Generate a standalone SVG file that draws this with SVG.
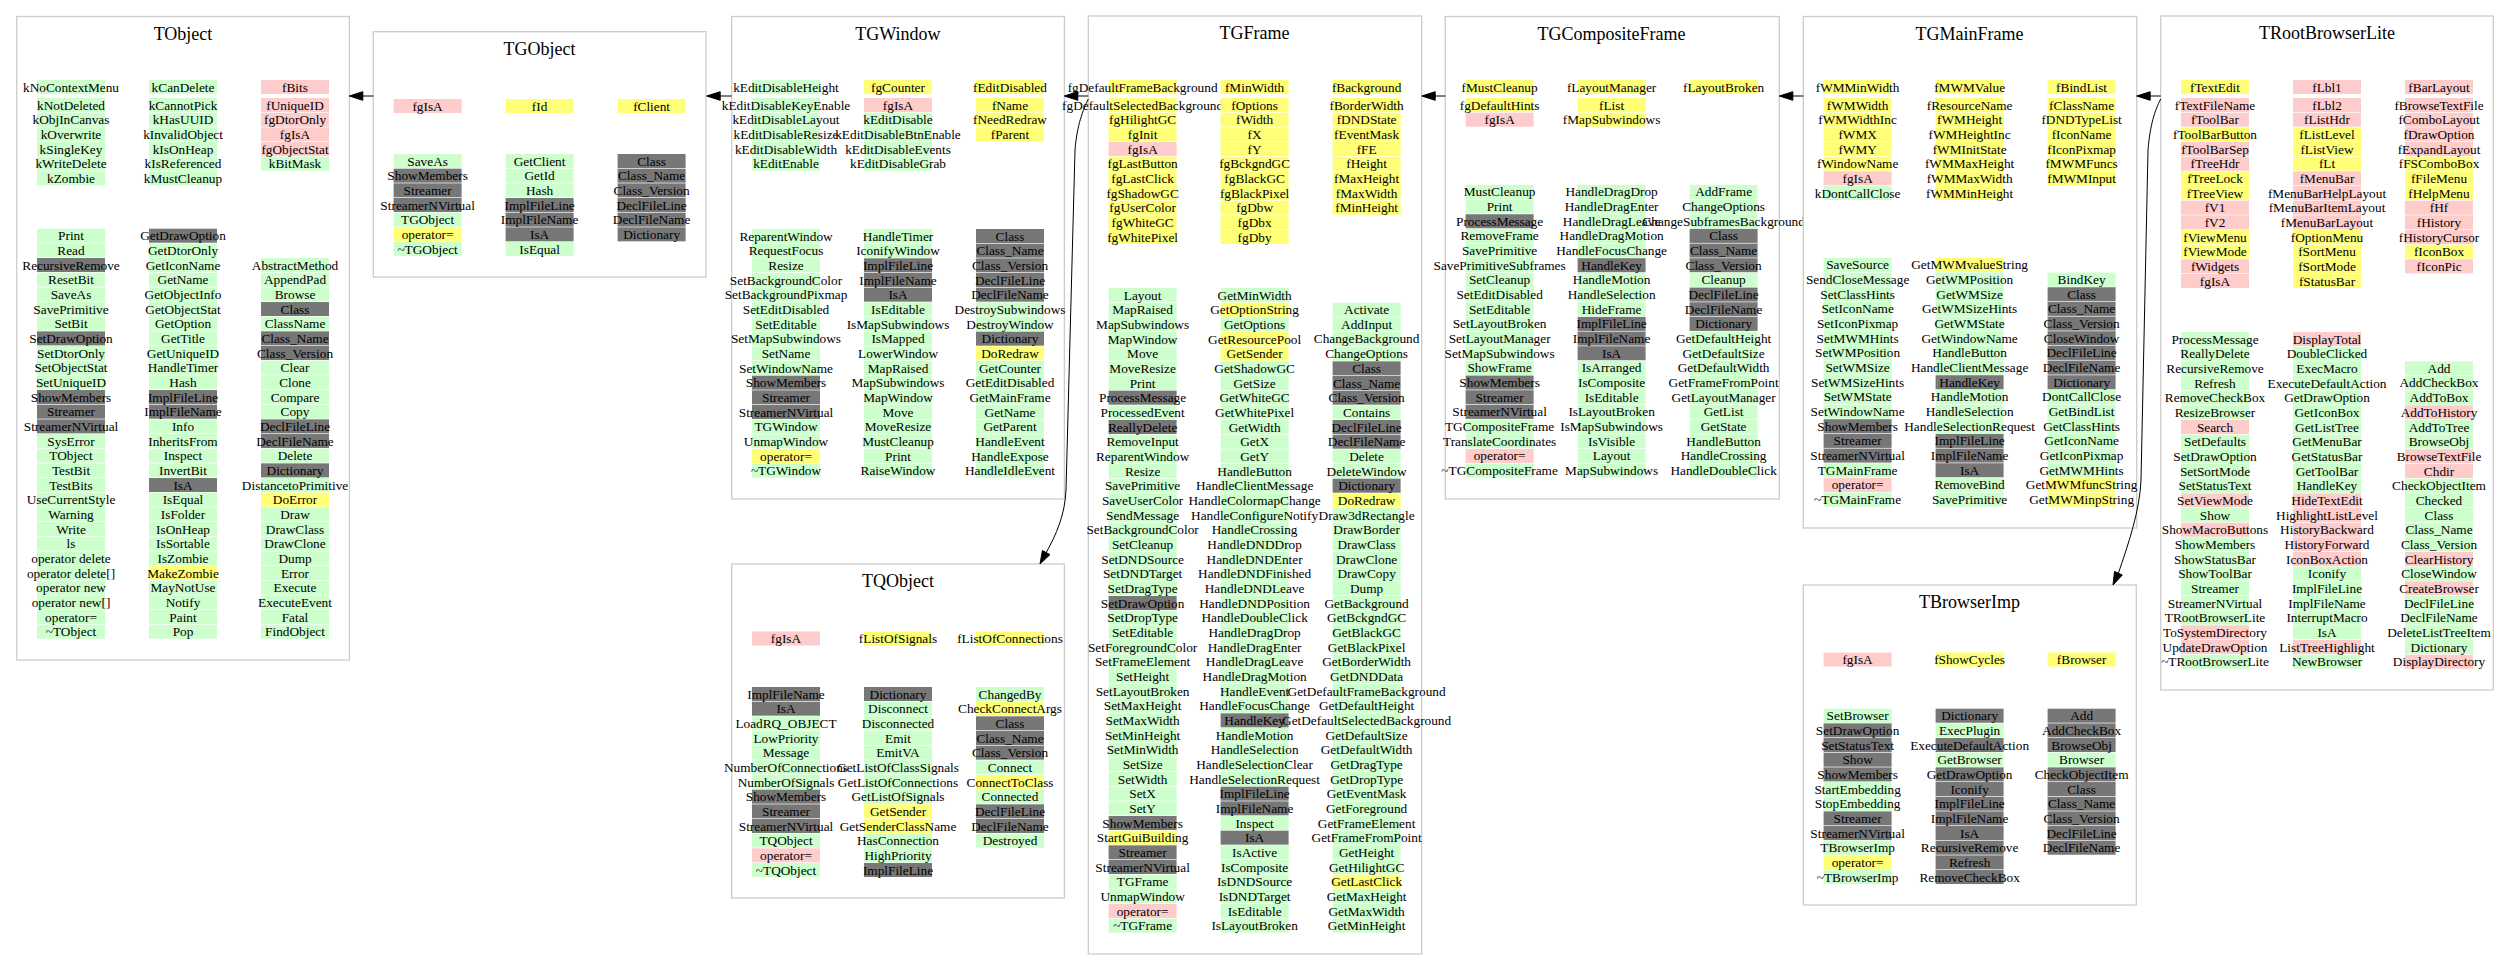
<svg xmlns="http://www.w3.org/2000/svg" xmlns:xlink="http://www.w3.org/1999/xlink" width="2509" height="980" viewBox="0 0 2509 980">
<style>
.box{fill:#fff;stroke:#cccccc;stroke-width:1.3}
.ttl{font-family:"Liberation Serif","Times New Roman",serif;font-size:18px;text-anchor:middle;fill:#000}
.tx{font-family:"Liberation Serif","Times New Roman",serif;font-size:13.3px;text-anchor:middle;fill:#000}
.e{fill:none;stroke:#000;stroke-width:1}
.ah{fill:#000;stroke:#000;stroke-width:1}
</style>
<defs>
<rect id="G" x="-34" y="-7" width="68" height="14" fill="#ccffcc"/>
<rect id="P" x="-34" y="-7" width="68" height="14" fill="#ffcccc"/>
<rect id="Y" x="-34" y="-7" width="68" height="14" fill="#ffff77"/>
<rect id="D" x="-34" y="-7" width="68" height="14" fill="#777777"/>
</defs>
<rect width="2509" height="980" fill="#fff"/>

<g id="TObject">
<rect class="box" x="16.7" y="16.5" width="332.7" height="643.5"/>
<text class="ttl" x="183" y="39.5">TObject</text>
<use href="#G" x="71" y="87"/><use href="#G" x="183" y="87"/><use href="#P" x="295" y="87"/>
<text class="tx" x="71" y="91.5">kNoContextMenu</text><text class="tx" x="183" y="91.5">kCanDelete</text><text class="tx" x="295" y="91.5">fBits</text>
<g transform="translate(71,105)">
<use href="#G"/><use href="#G" y="14.67"/><use href="#G" y="29.33"/><use href="#G" y="44"/><use href="#G" y="58.67"/><use href="#G" y="73.33"/>
<text class="tx"><tspan x="0" y="4.5">kNotDeleted</tspan><tspan x="0" dy="14.67">kObjInCanvas</tspan><tspan x="0" dy="14.67">kOverwrite</tspan><tspan x="0" dy="14.67">kSingleKey</tspan><tspan x="0" dy="14.67">kWriteDelete</tspan><tspan x="0" dy="14.67">kZombie</tspan></text>
</g>
<g transform="translate(183,105)">
<use href="#G"/><use href="#G" y="14.67"/><use href="#G" y="29.33"/><use href="#G" y="44"/><use href="#G" y="58.67"/><use href="#G" y="73.33"/>
<text class="tx"><tspan x="0" y="4.5">kCannotPick</tspan><tspan x="0" dy="14.67">kHasUUID</tspan><tspan x="0" dy="14.67">kInvalidObject</tspan><tspan x="0" dy="14.67">kIsOnHeap</tspan><tspan x="0" dy="14.67">kIsReferenced</tspan><tspan x="0" dy="14.67">kMustCleanup</tspan></text>
</g>
<g transform="translate(295,105)">
<use href="#P"/><use href="#P" y="14.67"/><use href="#P" y="29.33"/><use href="#P" y="44"/><use href="#G" y="58.67"/>
<text class="tx"><tspan x="0" y="4.5">fUniqueID</tspan><tspan x="0" dy="14.67">fgDtorOnly</tspan><tspan x="0" dy="14.67">fgIsA</tspan><tspan x="0" dy="14.67">fgObjectStat</tspan><tspan x="0" dy="14.67">kBitMask</tspan></text>
</g>
<g transform="translate(71,235.7)">
<use href="#G"/><use href="#G" y="14.67"/><use href="#D" y="29.33"/><use href="#G" y="44"/><use href="#G" y="58.67"/><use href="#G" y="73.33"/><use href="#G" y="88"/><use href="#D" y="102.67"/><use href="#G" y="117.33"/><use href="#G" y="132"/><use href="#G" y="146.67"/><use href="#D" y="161.33"/><use href="#D" y="176"/><use href="#D" y="190.67"/><use href="#G" y="205.33"/><use href="#G" y="220"/><use href="#G" y="234.67"/><use href="#G" y="249.33"/><use href="#G" y="264"/><use href="#G" y="278.67"/><use href="#G" y="293.33"/><use href="#G" y="308"/><use href="#G" y="322.67"/><use href="#G" y="337.33"/><use href="#G" y="352"/><use href="#G" y="366.67"/><use href="#G" y="381.33"/><use href="#G" y="396"/>
<text class="tx"><tspan x="0" y="4.5">Print</tspan><tspan x="0" dy="14.67">Read</tspan><tspan x="0" dy="14.67">RecursiveRemove</tspan><tspan x="0" dy="14.67">ResetBit</tspan><tspan x="0" dy="14.67">SaveAs</tspan><tspan x="0" dy="14.67">SavePrimitive</tspan><tspan x="0" dy="14.67">SetBit</tspan><tspan x="0" dy="14.67">SetDrawOption</tspan><tspan x="0" dy="14.67">SetDtorOnly</tspan><tspan x="0" dy="14.67">SetObjectStat</tspan><tspan x="0" dy="14.67">SetUniqueID</tspan><tspan x="0" dy="14.67">ShowMembers</tspan><tspan x="0" dy="14.67">Streamer</tspan><tspan x="0" dy="14.67">StreamerNVirtual</tspan><tspan x="0" dy="14.67">SysError</tspan><tspan x="0" dy="14.67">TObject</tspan><tspan x="0" dy="14.67">TestBit</tspan><tspan x="0" dy="14.67">TestBits</tspan><tspan x="0" dy="14.67">UseCurrentStyle</tspan><tspan x="0" dy="14.67">Warning</tspan><tspan x="0" dy="14.67">Write</tspan><tspan x="0" dy="14.67">ls</tspan><tspan x="0" dy="14.67">operator delete</tspan><tspan x="0" dy="14.67">operator delete[]</tspan><tspan x="0" dy="14.67">operator new</tspan><tspan x="0" dy="14.67">operator new[]</tspan><tspan x="0" dy="14.67">operator=</tspan><tspan x="0" dy="14.67">~TObject</tspan></text>
</g>
<g transform="translate(183,235.7)">
<use href="#D"/><use href="#G" y="14.67"/><use href="#G" y="29.33"/><use href="#G" y="44"/><use href="#G" y="58.67"/><use href="#G" y="73.33"/><use href="#G" y="88"/><use href="#G" y="102.67"/><use href="#G" y="117.33"/><use href="#G" y="132"/><use href="#G" y="146.67"/><use href="#D" y="161.33"/><use href="#D" y="176"/><use href="#G" y="190.67"/><use href="#G" y="205.33"/><use href="#G" y="220"/><use href="#G" y="234.67"/><use href="#D" y="249.33"/><use href="#G" y="264"/><use href="#G" y="278.67"/><use href="#G" y="293.33"/><use href="#G" y="308"/><use href="#G" y="322.67"/><use href="#Y" y="337.33"/><use href="#G" y="352"/><use href="#G" y="366.67"/><use href="#G" y="381.33"/><use href="#G" y="396"/>
<text class="tx"><tspan x="0" y="4.5">GetDrawOption</tspan><tspan x="0" dy="14.67">GetDtorOnly</tspan><tspan x="0" dy="14.67">GetIconName</tspan><tspan x="0" dy="14.67">GetName</tspan><tspan x="0" dy="14.67">GetObjectInfo</tspan><tspan x="0" dy="14.67">GetObjectStat</tspan><tspan x="0" dy="14.67">GetOption</tspan><tspan x="0" dy="14.67">GetTitle</tspan><tspan x="0" dy="14.67">GetUniqueID</tspan><tspan x="0" dy="14.67">HandleTimer</tspan><tspan x="0" dy="14.67">Hash</tspan><tspan x="0" dy="14.67">ImplFileLine</tspan><tspan x="0" dy="14.67">ImplFileName</tspan><tspan x="0" dy="14.67">Info</tspan><tspan x="0" dy="14.67">InheritsFrom</tspan><tspan x="0" dy="14.67">Inspect</tspan><tspan x="0" dy="14.67">InvertBit</tspan><tspan x="0" dy="14.67">IsA</tspan><tspan x="0" dy="14.67">IsEqual</tspan><tspan x="0" dy="14.67">IsFolder</tspan><tspan x="0" dy="14.67">IsOnHeap</tspan><tspan x="0" dy="14.67">IsSortable</tspan><tspan x="0" dy="14.67">IsZombie</tspan><tspan x="0" dy="14.67">MakeZombie</tspan><tspan x="0" dy="14.67">MayNotUse</tspan><tspan x="0" dy="14.67">Notify</tspan><tspan x="0" dy="14.67">Paint</tspan><tspan x="0" dy="14.67">Pop</tspan></text>
</g>
<g transform="translate(295,265.03)">
<use href="#G"/><use href="#G" y="14.67"/><use href="#G" y="29.33"/><use href="#D" y="44"/><use href="#G" y="58.67"/><use href="#D" y="73.33"/><use href="#D" y="88"/><use href="#G" y="102.67"/><use href="#G" y="117.33"/><use href="#G" y="132"/><use href="#G" y="146.67"/><use href="#D" y="161.33"/><use href="#D" y="176"/><use href="#G" y="190.67"/><use href="#D" y="205.33"/><use href="#G" y="220"/><use href="#Y" y="234.67"/><use href="#G" y="249.33"/><use href="#G" y="264"/><use href="#G" y="278.67"/><use href="#G" y="293.33"/><use href="#G" y="308"/><use href="#G" y="322.67"/><use href="#G" y="337.33"/><use href="#G" y="352"/><use href="#G" y="366.67"/>
<text class="tx"><tspan x="0" y="4.5">AbstractMethod</tspan><tspan x="0" dy="14.67">AppendPad</tspan><tspan x="0" dy="14.67">Browse</tspan><tspan x="0" dy="14.67">Class</tspan><tspan x="0" dy="14.67">ClassName</tspan><tspan x="0" dy="14.67">Class_Name</tspan><tspan x="0" dy="14.67">Class_Version</tspan><tspan x="0" dy="14.67">Clear</tspan><tspan x="0" dy="14.67">Clone</tspan><tspan x="0" dy="14.67">Compare</tspan><tspan x="0" dy="14.67">Copy</tspan><tspan x="0" dy="14.67">DeclFileLine</tspan><tspan x="0" dy="14.67">DeclFileName</tspan><tspan x="0" dy="14.67">Delete</tspan><tspan x="0" dy="14.67">Dictionary</tspan><tspan x="0" dy="14.67">DistancetoPrimitive</tspan><tspan x="0" dy="14.67">DoError</tspan><tspan x="0" dy="14.67">Draw</tspan><tspan x="0" dy="14.67">DrawClass</tspan><tspan x="0" dy="14.67">DrawClone</tspan><tspan x="0" dy="14.67">Dump</tspan><tspan x="0" dy="14.67">Error</tspan><tspan x="0" dy="14.67">Execute</tspan><tspan x="0" dy="14.67">ExecuteEvent</tspan><tspan x="0" dy="14.67">Fatal</tspan><tspan x="0" dy="14.67">FindObject</tspan></text>
</g>
</g>

<g id="TGObject">
<rect class="box" x="373.3" y="31.7" width="332.7" height="245.3"/>
<text class="ttl" x="539.6" y="54.7">TGObject</text>
<use href="#P" x="427.6" y="106"/><use href="#Y" x="539.6" y="106"/><use href="#Y" x="651.6" y="106"/>
<text class="tx" x="427.6" y="110.5">fgIsA</text><text class="tx" x="539.6" y="110.5">fId</text><text class="tx" x="651.6" y="110.5">fClient</text>
<g transform="translate(427.6,161)">
<use href="#G"/><use href="#D" y="14.67"/><use href="#D" y="29.33"/><use href="#D" y="44"/><use href="#G" y="58.67"/><use href="#Y" y="73.33"/><use href="#G" y="88"/>
<text class="tx"><tspan x="0" y="4.5">SaveAs</tspan><tspan x="0" dy="14.67">ShowMembers</tspan><tspan x="0" dy="14.67">Streamer</tspan><tspan x="0" dy="14.67">StreamerNVirtual</tspan><tspan x="0" dy="14.67">TGObject</tspan><tspan x="0" dy="14.67">operator=</tspan><tspan x="0" dy="14.67">~TGObject</tspan></text>
</g>
<g transform="translate(539.6,161)">
<use href="#G"/><use href="#G" y="14.67"/><use href="#G" y="29.33"/><use href="#D" y="44"/><use href="#D" y="58.67"/><use href="#D" y="73.33"/><use href="#G" y="88"/>
<text class="tx"><tspan x="0" y="4.5">GetClient</tspan><tspan x="0" dy="14.67">GetId</tspan><tspan x="0" dy="14.67">Hash</tspan><tspan x="0" dy="14.67">ImplFileLine</tspan><tspan x="0" dy="14.67">ImplFileName</tspan><tspan x="0" dy="14.67">IsA</tspan><tspan x="0" dy="14.67">IsEqual</tspan></text>
</g>
<g transform="translate(651.6,161)">
<use href="#D"/><use href="#D" y="14.67"/><use href="#D" y="29.33"/><use href="#D" y="44"/><use href="#D" y="58.67"/><use href="#D" y="73.33"/>
<text class="tx"><tspan x="0" y="4.5">Class</tspan><tspan x="0" dy="14.67">Class_Name</tspan><tspan x="0" dy="14.67">Class_Version</tspan><tspan x="0" dy="14.67">DeclFileLine</tspan><tspan x="0" dy="14.67">DeclFileName</tspan><tspan x="0" dy="14.67">Dictionary</tspan></text>
</g>
</g>

<g id="TGWindow">
<rect class="box" x="731.7" y="16.5" width="332.7" height="482.5"/>
<text class="ttl" x="898" y="39.5">TGWindow</text>
<use href="#G" x="786" y="87"/><use href="#Y" x="898" y="87"/><use href="#Y" x="1010" y="87"/>
<text class="tx" x="786" y="91.5">kEditDisableHeight</text><text class="tx" x="898" y="91.5">fgCounter</text><text class="tx" x="1010" y="91.5">fEditDisabled</text>
<g transform="translate(786,105)">
<use href="#G"/><use href="#G" y="14.67"/><use href="#G" y="29.33"/><use href="#G" y="44"/><use href="#G" y="58.67"/>
<text class="tx"><tspan x="0" y="4.5">kEditDisableKeyEnable</tspan><tspan x="0" dy="14.67">kEditDisableLayout</tspan><tspan x="0" dy="14.67">kEditDisableResize</tspan><tspan x="0" dy="14.67">kEditDisableWidth</tspan><tspan x="0" dy="14.67">kEditEnable</tspan></text>
</g>
<g transform="translate(898,105)">
<use href="#P"/><use href="#G" y="14.67"/><use href="#G" y="29.33"/><use href="#G" y="44"/><use href="#G" y="58.67"/>
<text class="tx"><tspan x="0" y="4.5">fgIsA</tspan><tspan x="0" dy="14.67">kEditDisable</tspan><tspan x="0" dy="14.67">kEditDisableBtnEnable</tspan><tspan x="0" dy="14.67">kEditDisableEvents</tspan><tspan x="0" dy="14.67">kEditDisableGrab</tspan></text>
</g>
<g transform="translate(1010,105)">
<use href="#Y"/><use href="#Y" y="14.67"/><use href="#Y" y="29.33"/>
<text class="tx"><tspan x="0" y="4.5">fName</tspan><tspan x="0" dy="14.67">fNeedRedraw</tspan><tspan x="0" dy="14.67">fParent</tspan></text>
</g>
<g transform="translate(786,236)">
<use href="#G"/><use href="#G" y="14.67"/><use href="#G" y="29.33"/><use href="#G" y="44"/><use href="#G" y="58.67"/><use href="#G" y="73.33"/><use href="#G" y="88"/><use href="#G" y="102.67"/><use href="#G" y="117.33"/><use href="#G" y="132"/><use href="#D" y="146.67"/><use href="#D" y="161.33"/><use href="#D" y="176"/><use href="#G" y="190.67"/><use href="#G" y="205.33"/><use href="#Y" y="220"/><use href="#G" y="234.67"/>
<text class="tx"><tspan x="0" y="4.5">ReparentWindow</tspan><tspan x="0" dy="14.67">RequestFocus</tspan><tspan x="0" dy="14.67">Resize</tspan><tspan x="0" dy="14.67">SetBackgroundColor</tspan><tspan x="0" dy="14.67">SetBackgroundPixmap</tspan><tspan x="0" dy="14.67">SetEditDisabled</tspan><tspan x="0" dy="14.67">SetEditable</tspan><tspan x="0" dy="14.67">SetMapSubwindows</tspan><tspan x="0" dy="14.67">SetName</tspan><tspan x="0" dy="14.67">SetWindowName</tspan><tspan x="0" dy="14.67">ShowMembers</tspan><tspan x="0" dy="14.67">Streamer</tspan><tspan x="0" dy="14.67">StreamerNVirtual</tspan><tspan x="0" dy="14.67">TGWindow</tspan><tspan x="0" dy="14.67">UnmapWindow</tspan><tspan x="0" dy="14.67">operator=</tspan><tspan x="0" dy="14.67">~TGWindow</tspan></text>
</g>
<g transform="translate(898,236)">
<use href="#G"/><use href="#G" y="14.67"/><use href="#D" y="29.33"/><use href="#D" y="44"/><use href="#D" y="58.67"/><use href="#G" y="73.33"/><use href="#G" y="88"/><use href="#G" y="102.67"/><use href="#G" y="117.33"/><use href="#G" y="132"/><use href="#G" y="146.67"/><use href="#G" y="161.33"/><use href="#G" y="176"/><use href="#G" y="190.67"/><use href="#G" y="205.33"/><use href="#G" y="220"/><use href="#G" y="234.67"/>
<text class="tx"><tspan x="0" y="4.5">HandleTimer</tspan><tspan x="0" dy="14.67">IconifyWindow</tspan><tspan x="0" dy="14.67">ImplFileLine</tspan><tspan x="0" dy="14.67">ImplFileName</tspan><tspan x="0" dy="14.67">IsA</tspan><tspan x="0" dy="14.67">IsEditable</tspan><tspan x="0" dy="14.67">IsMapSubwindows</tspan><tspan x="0" dy="14.67">IsMapped</tspan><tspan x="0" dy="14.67">LowerWindow</tspan><tspan x="0" dy="14.67">MapRaised</tspan><tspan x="0" dy="14.67">MapSubwindows</tspan><tspan x="0" dy="14.67">MapWindow</tspan><tspan x="0" dy="14.67">Move</tspan><tspan x="0" dy="14.67">MoveResize</tspan><tspan x="0" dy="14.67">MustCleanup</tspan><tspan x="0" dy="14.67">Print</tspan><tspan x="0" dy="14.67">RaiseWindow</tspan></text>
</g>
<g transform="translate(1010,236)">
<use href="#D"/><use href="#D" y="14.67"/><use href="#D" y="29.33"/><use href="#D" y="44"/><use href="#D" y="58.67"/><use href="#G" y="73.33"/><use href="#G" y="88"/><use href="#D" y="102.67"/><use href="#Y" y="117.33"/><use href="#G" y="132"/><use href="#G" y="146.67"/><use href="#G" y="161.33"/><use href="#G" y="176"/><use href="#G" y="190.67"/><use href="#G" y="205.33"/><use href="#G" y="220"/><use href="#G" y="234.67"/>
<text class="tx"><tspan x="0" y="4.5">Class</tspan><tspan x="0" dy="14.67">Class_Name</tspan><tspan x="0" dy="14.67">Class_Version</tspan><tspan x="0" dy="14.67">DeclFileLine</tspan><tspan x="0" dy="14.67">DeclFileName</tspan><tspan x="0" dy="14.67">DestroySubwindows</tspan><tspan x="0" dy="14.67">DestroyWindow</tspan><tspan x="0" dy="14.67">Dictionary</tspan><tspan x="0" dy="14.67">DoRedraw</tspan><tspan x="0" dy="14.67">GetCounter</tspan><tspan x="0" dy="14.67">GetEditDisabled</tspan><tspan x="0" dy="14.67">GetMainFrame</tspan><tspan x="0" dy="14.67">GetName</tspan><tspan x="0" dy="14.67">GetParent</tspan><tspan x="0" dy="14.67">HandleEvent</tspan><tspan x="0" dy="14.67">HandleExpose</tspan><tspan x="0" dy="14.67">HandleIdleEvent</tspan></text>
</g>
</g>

<g id="TQObject">
<rect class="box" x="731.7" y="564" width="332.7" height="334"/>
<text class="ttl" x="898" y="587">TQObject</text>
<use href="#P" x="786" y="638.5"/><use href="#Y" x="898" y="638.5"/><use href="#Y" x="1010" y="638.5"/>
<text class="tx" x="786" y="643">fgIsA</text><text class="tx" x="898" y="643">fListOfSignals</text><text class="tx" x="1010" y="643">fListOfConnections</text>
<g transform="translate(786,694)">
<use href="#D"/><use href="#D" y="14.67"/><use href="#G" y="29.33"/><use href="#G" y="44"/><use href="#G" y="58.67"/><use href="#G" y="73.33"/><use href="#G" y="88"/><use href="#D" y="102.67"/><use href="#D" y="117.33"/><use href="#D" y="132"/><use href="#G" y="146.67"/><use href="#P" y="161.33"/><use href="#G" y="176"/>
<text class="tx"><tspan x="0" y="4.5">ImplFileName</tspan><tspan x="0" dy="14.67">IsA</tspan><tspan x="0" dy="14.67">LoadRQ_OBJECT</tspan><tspan x="0" dy="14.67">LowPriority</tspan><tspan x="0" dy="14.67">Message</tspan><tspan x="0" dy="14.67">NumberOfConnections</tspan><tspan x="0" dy="14.67">NumberOfSignals</tspan><tspan x="0" dy="14.67">ShowMembers</tspan><tspan x="0" dy="14.67">Streamer</tspan><tspan x="0" dy="14.67">StreamerNVirtual</tspan><tspan x="0" dy="14.67">TQObject</tspan><tspan x="0" dy="14.67">operator=</tspan><tspan x="0" dy="14.67">~TQObject</tspan></text>
</g>
<g transform="translate(898,694)">
<use href="#D"/><use href="#G" y="14.67"/><use href="#G" y="29.33"/><use href="#G" y="44"/><use href="#G" y="58.67"/><use href="#G" y="73.33"/><use href="#G" y="88"/><use href="#G" y="102.67"/><use href="#Y" y="117.33"/><use href="#Y" y="132"/><use href="#G" y="146.67"/><use href="#G" y="161.33"/><use href="#D" y="176"/>
<text class="tx"><tspan x="0" y="4.5">Dictionary</tspan><tspan x="0" dy="14.67">Disconnect</tspan><tspan x="0" dy="14.67">Disconnected</tspan><tspan x="0" dy="14.67">Emit</tspan><tspan x="0" dy="14.67">EmitVA</tspan><tspan x="0" dy="14.67">GetListOfClassSignals</tspan><tspan x="0" dy="14.67">GetListOfConnections</tspan><tspan x="0" dy="14.67">GetListOfSignals</tspan><tspan x="0" dy="14.67">GetSender</tspan><tspan x="0" dy="14.67">GetSenderClassName</tspan><tspan x="0" dy="14.67">HasConnection</tspan><tspan x="0" dy="14.67">HighPriority</tspan><tspan x="0" dy="14.67">ImplFileLine</tspan></text>
</g>
<g transform="translate(1010,694)">
<use href="#G"/><use href="#Y" y="14.67"/><use href="#D" y="29.33"/><use href="#D" y="44"/><use href="#D" y="58.67"/><use href="#G" y="73.33"/><use href="#Y" y="88"/><use href="#G" y="102.67"/><use href="#D" y="117.33"/><use href="#D" y="132"/><use href="#G" y="146.67"/>
<text class="tx"><tspan x="0" y="4.5">ChangedBy</tspan><tspan x="0" dy="14.67">CheckConnectArgs</tspan><tspan x="0" dy="14.67">Class</tspan><tspan x="0" dy="14.67">Class_Name</tspan><tspan x="0" dy="14.67">Class_Version</tspan><tspan x="0" dy="14.67">Connect</tspan><tspan x="0" dy="14.67">ConnectToClass</tspan><tspan x="0" dy="14.67">Connected</tspan><tspan x="0" dy="14.67">DeclFileLine</tspan><tspan x="0" dy="14.67">DeclFileName</tspan><tspan x="0" dy="14.67">Destroyed</tspan></text>
</g>
</g>

<g id="TGFrame">
<rect class="box" x="1088.3" y="16" width="333.4" height="938"/>
<text class="ttl" x="1254.6" y="39">TGFrame</text>
<use href="#Y" x="1142.6" y="87"/><use href="#Y" x="1254.6" y="87"/><use href="#Y" x="1366.6" y="87"/>
<text class="tx" x="1142.6" y="91.5">fgDefaultFrameBackground</text><text class="tx" x="1254.6" y="91.5">fMinWidth</text><text class="tx" x="1366.6" y="91.5">fBackground</text>
<g transform="translate(1142.6,105)">
<use href="#Y"/><use href="#Y" y="14.67"/><use href="#Y" y="29.33"/><use href="#P" y="44"/><use href="#Y" y="58.67"/><use href="#Y" y="73.33"/><use href="#Y" y="88"/><use href="#Y" y="102.67"/><use href="#Y" y="117.33"/><use href="#Y" y="132"/>
<text class="tx"><tspan x="0" y="4.5">fgDefaultSelectedBackground</tspan><tspan x="0" dy="14.67">fgHilightGC</tspan><tspan x="0" dy="14.67">fgInit</tspan><tspan x="0" dy="14.67">fgIsA</tspan><tspan x="0" dy="14.67">fgLastButton</tspan><tspan x="0" dy="14.67">fgLastClick</tspan><tspan x="0" dy="14.67">fgShadowGC</tspan><tspan x="0" dy="14.67">fgUserColor</tspan><tspan x="0" dy="14.67">fgWhiteGC</tspan><tspan x="0" dy="14.67">fgWhitePixel</tspan></text>
</g>
<g transform="translate(1254.6,105)">
<use href="#Y"/><use href="#Y" y="14.67"/><use href="#Y" y="29.33"/><use href="#Y" y="44"/><use href="#Y" y="58.67"/><use href="#Y" y="73.33"/><use href="#Y" y="88"/><use href="#Y" y="102.67"/><use href="#Y" y="117.33"/><use href="#Y" y="132"/>
<text class="tx"><tspan x="0" y="4.5">fOptions</tspan><tspan x="0" dy="14.67">fWidth</tspan><tspan x="0" dy="14.67">fX</tspan><tspan x="0" dy="14.67">fY</tspan><tspan x="0" dy="14.67">fgBckgndGC</tspan><tspan x="0" dy="14.67">fgBlackGC</tspan><tspan x="0" dy="14.67">fgBlackPixel</tspan><tspan x="0" dy="14.67">fgDbw</tspan><tspan x="0" dy="14.67">fgDbx</tspan><tspan x="0" dy="14.67">fgDby</tspan></text>
</g>
<g transform="translate(1366.6,105)">
<use href="#Y"/><use href="#Y" y="14.67"/><use href="#Y" y="29.33"/><use href="#Y" y="44"/><use href="#Y" y="58.67"/><use href="#Y" y="73.33"/><use href="#Y" y="88"/><use href="#Y" y="102.67"/>
<text class="tx"><tspan x="0" y="4.5">fBorderWidth</tspan><tspan x="0" dy="14.67">fDNDState</tspan><tspan x="0" dy="14.67">fEventMask</tspan><tspan x="0" dy="14.67">fFE</tspan><tspan x="0" dy="14.67">fHeight</tspan><tspan x="0" dy="14.67">fMaxHeight</tspan><tspan x="0" dy="14.67">fMaxWidth</tspan><tspan x="0" dy="14.67">fMinHeight</tspan></text>
</g>
<g transform="translate(1142.6,295)">
<use href="#G"/><use href="#G" y="14.67"/><use href="#G" y="29.33"/><use href="#G" y="44"/><use href="#G" y="58.67"/><use href="#G" y="73.33"/><use href="#G" y="88"/><use href="#D" y="102.67"/><use href="#G" y="117.33"/><use href="#D" y="132"/><use href="#G" y="146.67"/><use href="#G" y="161.33"/><use href="#G" y="176"/><use href="#G" y="190.67"/><use href="#G" y="205.33"/><use href="#G" y="220"/><use href="#G" y="234.67"/><use href="#G" y="249.33"/><use href="#G" y="264"/><use href="#G" y="278.67"/><use href="#G" y="293.33"/><use href="#D" y="308"/><use href="#G" y="322.67"/><use href="#G" y="337.33"/><use href="#G" y="352"/><use href="#G" y="366.67"/><use href="#G" y="381.33"/><use href="#G" y="396"/><use href="#G" y="410.67"/><use href="#G" y="425.33"/><use href="#G" y="440"/><use href="#G" y="454.67"/><use href="#G" y="469.33"/><use href="#G" y="484"/><use href="#G" y="498.67"/><use href="#G" y="513.33"/><use href="#D" y="528"/><use href="#Y" y="542.67"/><use href="#D" y="557.33"/><use href="#D" y="572"/><use href="#G" y="586.67"/><use href="#G" y="601.33"/><use href="#P" y="616"/><use href="#G" y="630.67"/>
<text class="tx"><tspan x="0" y="4.5">Layout</tspan><tspan x="0" dy="14.67">MapRaised</tspan><tspan x="0" dy="14.67">MapSubwindows</tspan><tspan x="0" dy="14.67">MapWindow</tspan><tspan x="0" dy="14.67">Move</tspan><tspan x="0" dy="14.67">MoveResize</tspan><tspan x="0" dy="14.67">Print</tspan><tspan x="0" dy="14.67">ProcessMessage</tspan><tspan x="0" dy="14.67">ProcessedEvent</tspan><tspan x="0" dy="14.67">ReallyDelete</tspan><tspan x="0" dy="14.67">RemoveInput</tspan><tspan x="0" dy="14.67">ReparentWindow</tspan><tspan x="0" dy="14.67">Resize</tspan><tspan x="0" dy="14.67">SavePrimitive</tspan><tspan x="0" dy="14.67">SaveUserColor</tspan><tspan x="0" dy="14.67">SendMessage</tspan><tspan x="0" dy="14.67">SetBackgroundColor</tspan><tspan x="0" dy="14.67">SetCleanup</tspan><tspan x="0" dy="14.67">SetDNDSource</tspan><tspan x="0" dy="14.67">SetDNDTarget</tspan><tspan x="0" dy="14.67">SetDragType</tspan><tspan x="0" dy="14.67">SetDrawOption</tspan><tspan x="0" dy="14.67">SetDropType</tspan><tspan x="0" dy="14.67">SetEditable</tspan><tspan x="0" dy="14.67">SetForegroundColor</tspan><tspan x="0" dy="14.67">SetFrameElement</tspan><tspan x="0" dy="14.67">SetHeight</tspan><tspan x="0" dy="14.67">SetLayoutBroken</tspan><tspan x="0" dy="14.67">SetMaxHeight</tspan><tspan x="0" dy="14.67">SetMaxWidth</tspan><tspan x="0" dy="14.67">SetMinHeight</tspan><tspan x="0" dy="14.67">SetMinWidth</tspan><tspan x="0" dy="14.67">SetSize</tspan><tspan x="0" dy="14.67">SetWidth</tspan><tspan x="0" dy="14.67">SetX</tspan><tspan x="0" dy="14.67">SetY</tspan><tspan x="0" dy="14.67">ShowMembers</tspan><tspan x="0" dy="14.67">StartGuiBuilding</tspan><tspan x="0" dy="14.67">Streamer</tspan><tspan x="0" dy="14.67">StreamerNVirtual</tspan><tspan x="0" dy="14.67">TGFrame</tspan><tspan x="0" dy="14.67">UnmapWindow</tspan><tspan x="0" dy="14.67">operator=</tspan><tspan x="0" dy="14.67">~TGFrame</tspan></text>
</g>
<g transform="translate(1254.6,295)">
<use href="#G"/><use href="#Y" y="14.67"/><use href="#G" y="29.33"/><use href="#Y" y="44"/><use href="#Y" y="58.67"/><use href="#G" y="73.33"/><use href="#G" y="88"/><use href="#G" y="102.67"/><use href="#G" y="117.33"/><use href="#G" y="132"/><use href="#G" y="146.67"/><use href="#G" y="161.33"/><use href="#G" y="176"/><use href="#G" y="190.67"/><use href="#G" y="205.33"/><use href="#G" y="220"/><use href="#G" y="234.67"/><use href="#G" y="249.33"/><use href="#G" y="264"/><use href="#G" y="278.67"/><use href="#G" y="293.33"/><use href="#G" y="308"/><use href="#G" y="322.67"/><use href="#G" y="337.33"/><use href="#G" y="352"/><use href="#G" y="366.67"/><use href="#G" y="381.33"/><use href="#G" y="396"/><use href="#G" y="410.67"/><use href="#D" y="425.33"/><use href="#G" y="440"/><use href="#G" y="454.67"/><use href="#G" y="469.33"/><use href="#G" y="484"/><use href="#D" y="498.67"/><use href="#D" y="513.33"/><use href="#G" y="528"/><use href="#D" y="542.67"/><use href="#G" y="557.33"/><use href="#G" y="572"/><use href="#G" y="586.67"/><use href="#G" y="601.33"/><use href="#G" y="616"/><use href="#G" y="630.67"/>
<text class="tx"><tspan x="0" y="4.5">GetMinWidth</tspan><tspan x="0" dy="14.67">GetOptionString</tspan><tspan x="0" dy="14.67">GetOptions</tspan><tspan x="0" dy="14.67">GetResourcePool</tspan><tspan x="0" dy="14.67">GetSender</tspan><tspan x="0" dy="14.67">GetShadowGC</tspan><tspan x="0" dy="14.67">GetSize</tspan><tspan x="0" dy="14.67">GetWhiteGC</tspan><tspan x="0" dy="14.67">GetWhitePixel</tspan><tspan x="0" dy="14.67">GetWidth</tspan><tspan x="0" dy="14.67">GetX</tspan><tspan x="0" dy="14.67">GetY</tspan><tspan x="0" dy="14.67">HandleButton</tspan><tspan x="0" dy="14.67">HandleClientMessage</tspan><tspan x="0" dy="14.67">HandleColormapChange</tspan><tspan x="0" dy="14.67">HandleConfigureNotify</tspan><tspan x="0" dy="14.67">HandleCrossing</tspan><tspan x="0" dy="14.67">HandleDNDDrop</tspan><tspan x="0" dy="14.67">HandleDNDEnter</tspan><tspan x="0" dy="14.67">HandleDNDFinished</tspan><tspan x="0" dy="14.67">HandleDNDLeave</tspan><tspan x="0" dy="14.67">HandleDNDPosition</tspan><tspan x="0" dy="14.67">HandleDoubleClick</tspan><tspan x="0" dy="14.67">HandleDragDrop</tspan><tspan x="0" dy="14.67">HandleDragEnter</tspan><tspan x="0" dy="14.67">HandleDragLeave</tspan><tspan x="0" dy="14.67">HandleDragMotion</tspan><tspan x="0" dy="14.67">HandleEvent</tspan><tspan x="0" dy="14.67">HandleFocusChange</tspan><tspan x="0" dy="14.67">HandleKey</tspan><tspan x="0" dy="14.67">HandleMotion</tspan><tspan x="0" dy="14.67">HandleSelection</tspan><tspan x="0" dy="14.67">HandleSelectionClear</tspan><tspan x="0" dy="14.67">HandleSelectionRequest</tspan><tspan x="0" dy="14.67">ImplFileLine</tspan><tspan x="0" dy="14.67">ImplFileName</tspan><tspan x="0" dy="14.67">Inspect</tspan><tspan x="0" dy="14.67">IsA</tspan><tspan x="0" dy="14.67">IsActive</tspan><tspan x="0" dy="14.67">IsComposite</tspan><tspan x="0" dy="14.67">IsDNDSource</tspan><tspan x="0" dy="14.67">IsDNDTarget</tspan><tspan x="0" dy="14.67">IsEditable</tspan><tspan x="0" dy="14.67">IsLayoutBroken</tspan></text>
</g>
<g transform="translate(1366.6,309.67)">
<use href="#G"/><use href="#G" y="14.67"/><use href="#G" y="29.33"/><use href="#G" y="44"/><use href="#D" y="58.67"/><use href="#D" y="73.33"/><use href="#D" y="88"/><use href="#G" y="102.67"/><use href="#D" y="117.33"/><use href="#D" y="132"/><use href="#G" y="146.67"/><use href="#G" y="161.33"/><use href="#D" y="176"/><use href="#Y" y="190.67"/><use href="#G" y="205.33"/><use href="#G" y="220"/><use href="#G" y="234.67"/><use href="#G" y="249.33"/><use href="#G" y="264"/><use href="#G" y="278.67"/><use href="#G" y="293.33"/><use href="#G" y="308"/><use href="#G" y="322.67"/><use href="#G" y="337.33"/><use href="#G" y="352"/><use href="#G" y="366.67"/><use href="#G" y="381.33"/><use href="#G" y="396"/><use href="#G" y="410.67"/><use href="#G" y="425.33"/><use href="#G" y="440"/><use href="#G" y="454.67"/><use href="#G" y="469.33"/><use href="#G" y="484"/><use href="#G" y="498.67"/><use href="#G" y="513.33"/><use href="#G" y="528"/><use href="#G" y="542.67"/><use href="#G" y="557.33"/><use href="#Y" y="572"/><use href="#G" y="586.67"/><use href="#G" y="601.33"/><use href="#G" y="616"/>
<text class="tx"><tspan x="0" y="4.5">Activate</tspan><tspan x="0" dy="14.67">AddInput</tspan><tspan x="0" dy="14.67">ChangeBackground</tspan><tspan x="0" dy="14.67">ChangeOptions</tspan><tspan x="0" dy="14.67">Class</tspan><tspan x="0" dy="14.67">Class_Name</tspan><tspan x="0" dy="14.67">Class_Version</tspan><tspan x="0" dy="14.67">Contains</tspan><tspan x="0" dy="14.67">DeclFileLine</tspan><tspan x="0" dy="14.67">DeclFileName</tspan><tspan x="0" dy="14.67">Delete</tspan><tspan x="0" dy="14.67">DeleteWindow</tspan><tspan x="0" dy="14.67">Dictionary</tspan><tspan x="0" dy="14.67">DoRedraw</tspan><tspan x="0" dy="14.67">Draw3dRectangle</tspan><tspan x="0" dy="14.67">DrawBorder</tspan><tspan x="0" dy="14.67">DrawClass</tspan><tspan x="0" dy="14.67">DrawClone</tspan><tspan x="0" dy="14.67">DrawCopy</tspan><tspan x="0" dy="14.67">Dump</tspan><tspan x="0" dy="14.67">GetBackground</tspan><tspan x="0" dy="14.67">GetBckgndGC</tspan><tspan x="0" dy="14.67">GetBlackGC</tspan><tspan x="0" dy="14.67">GetBlackPixel</tspan><tspan x="0" dy="14.67">GetBorderWidth</tspan><tspan x="0" dy="14.67">GetDNDData</tspan><tspan x="0" dy="14.67">GetDefaultFrameBackground</tspan><tspan x="0" dy="14.67">GetDefaultHeight</tspan><tspan x="0" dy="14.67">GetDefaultSelectedBackground</tspan><tspan x="0" dy="14.67">GetDefaultSize</tspan><tspan x="0" dy="14.67">GetDefaultWidth</tspan><tspan x="0" dy="14.67">GetDragType</tspan><tspan x="0" dy="14.67">GetDropType</tspan><tspan x="0" dy="14.67">GetEventMask</tspan><tspan x="0" dy="14.67">GetForeground</tspan><tspan x="0" dy="14.67">GetFrameElement</tspan><tspan x="0" dy="14.67">GetFrameFromPoint</tspan><tspan x="0" dy="14.67">GetHeight</tspan><tspan x="0" dy="14.67">GetHilightGC</tspan><tspan x="0" dy="14.67">GetLastClick</tspan><tspan x="0" dy="14.67">GetMaxHeight</tspan><tspan x="0" dy="14.67">GetMaxWidth</tspan><tspan x="0" dy="14.67">GetMinHeight</tspan></text>
</g>
</g>

<g id="TGCompositeFrame">
<rect class="box" x="1445.3" y="16.5" width="334" height="482.5"/>
<text class="ttl" x="1611.6" y="39.5">TGCompositeFrame</text>
<use href="#Y" x="1499.6" y="87"/><use href="#Y" x="1611.6" y="87"/><use href="#Y" x="1723.6" y="87"/>
<text class="tx" x="1499.6" y="91.5">fMustCleanup</text><text class="tx" x="1611.6" y="91.5">fLayoutManager</text><text class="tx" x="1723.6" y="91.5">fLayoutBroken</text>
<g transform="translate(1499.6,105)">
<use href="#Y"/><use href="#P" y="14.67"/>
<text class="tx"><tspan x="0" y="4.5">fgDefaultHints</tspan><tspan x="0" dy="14.67">fgIsA</tspan></text>
</g>
<g transform="translate(1611.6,105)">
<use href="#Y"/><use href="#Y" y="14.67"/>
<text class="tx"><tspan x="0" y="4.5">fList</tspan><tspan x="0" dy="14.67">fMapSubwindows</tspan></text>
</g>
<g transform="translate(1499.6,191.9)">
<use href="#G"/><use href="#G" y="14.67"/><use href="#D" y="29.33"/><use href="#G" y="44"/><use href="#G" y="58.67"/><use href="#G" y="73.33"/><use href="#G" y="88"/><use href="#G" y="102.67"/><use href="#G" y="117.33"/><use href="#G" y="132"/><use href="#G" y="146.67"/><use href="#G" y="161.33"/><use href="#G" y="176"/><use href="#D" y="190.67"/><use href="#D" y="205.33"/><use href="#D" y="220"/><use href="#G" y="234.67"/><use href="#G" y="249.33"/><use href="#P" y="264"/><use href="#G" y="278.67"/>
<text class="tx"><tspan x="0" y="4.5">MustCleanup</tspan><tspan x="0" dy="14.67">Print</tspan><tspan x="0" dy="14.67">ProcessMessage</tspan><tspan x="0" dy="14.67">RemoveFrame</tspan><tspan x="0" dy="14.67">SavePrimitive</tspan><tspan x="0" dy="14.67">SavePrimitiveSubframes</tspan><tspan x="0" dy="14.67">SetCleanup</tspan><tspan x="0" dy="14.67">SetEditDisabled</tspan><tspan x="0" dy="14.67">SetEditable</tspan><tspan x="0" dy="14.67">SetLayoutBroken</tspan><tspan x="0" dy="14.67">SetLayoutManager</tspan><tspan x="0" dy="14.67">SetMapSubwindows</tspan><tspan x="0" dy="14.67">ShowFrame</tspan><tspan x="0" dy="14.67">ShowMembers</tspan><tspan x="0" dy="14.67">Streamer</tspan><tspan x="0" dy="14.67">StreamerNVirtual</tspan><tspan x="0" dy="14.67">TGCompositeFrame</tspan><tspan x="0" dy="14.67">TranslateCoordinates</tspan><tspan x="0" dy="14.67">operator=</tspan><tspan x="0" dy="14.67">~TGCompositeFrame</tspan></text>
</g>
<g transform="translate(1611.6,191.9)">
<use href="#G"/><use href="#G" y="14.67"/><use href="#G" y="29.33"/><use href="#G" y="44"/><use href="#G" y="58.67"/><use href="#D" y="73.33"/><use href="#G" y="88"/><use href="#G" y="102.67"/><use href="#G" y="117.33"/><use href="#D" y="132"/><use href="#D" y="146.67"/><use href="#D" y="161.33"/><use href="#G" y="176"/><use href="#G" y="190.67"/><use href="#G" y="205.33"/><use href="#G" y="220"/><use href="#G" y="234.67"/><use href="#G" y="249.33"/><use href="#G" y="264"/><use href="#G" y="278.67"/>
<text class="tx"><tspan x="0" y="4.5">HandleDragDrop</tspan><tspan x="0" dy="14.67">HandleDragEnter</tspan><tspan x="0" dy="14.67">HandleDragLeave</tspan><tspan x="0" dy="14.67">HandleDragMotion</tspan><tspan x="0" dy="14.67">HandleFocusChange</tspan><tspan x="0" dy="14.67">HandleKey</tspan><tspan x="0" dy="14.67">HandleMotion</tspan><tspan x="0" dy="14.67">HandleSelection</tspan><tspan x="0" dy="14.67">HideFrame</tspan><tspan x="0" dy="14.67">ImplFileLine</tspan><tspan x="0" dy="14.67">ImplFileName</tspan><tspan x="0" dy="14.67">IsA</tspan><tspan x="0" dy="14.67">IsArranged</tspan><tspan x="0" dy="14.67">IsComposite</tspan><tspan x="0" dy="14.67">IsEditable</tspan><tspan x="0" dy="14.67">IsLayoutBroken</tspan><tspan x="0" dy="14.67">IsMapSubwindows</tspan><tspan x="0" dy="14.67">IsVisible</tspan><tspan x="0" dy="14.67">Layout</tspan><tspan x="0" dy="14.67">MapSubwindows</tspan></text>
</g>
<g transform="translate(1723.6,191.9)">
<use href="#G"/><use href="#G" y="14.67"/><use href="#G" y="29.33"/><use href="#D" y="44"/><use href="#D" y="58.67"/><use href="#D" y="73.33"/><use href="#G" y="88"/><use href="#D" y="102.67"/><use href="#D" y="117.33"/><use href="#D" y="132"/><use href="#G" y="146.67"/><use href="#G" y="161.33"/><use href="#G" y="176"/><use href="#G" y="190.67"/><use href="#G" y="205.33"/><use href="#G" y="220"/><use href="#G" y="234.67"/><use href="#G" y="249.33"/><use href="#G" y="264"/><use href="#G" y="278.67"/>
<text class="tx"><tspan x="0" y="4.5">AddFrame</tspan><tspan x="0" dy="14.67">ChangeOptions</tspan><tspan x="0" dy="14.67">ChangeSubframesBackground</tspan><tspan x="0" dy="14.67">Class</tspan><tspan x="0" dy="14.67">Class_Name</tspan><tspan x="0" dy="14.67">Class_Version</tspan><tspan x="0" dy="14.67">Cleanup</tspan><tspan x="0" dy="14.67">DeclFileLine</tspan><tspan x="0" dy="14.67">DeclFileName</tspan><tspan x="0" dy="14.67">Dictionary</tspan><tspan x="0" dy="14.67">GetDefaultHeight</tspan><tspan x="0" dy="14.67">GetDefaultSize</tspan><tspan x="0" dy="14.67">GetDefaultWidth</tspan><tspan x="0" dy="14.67">GetFrameFromPoint</tspan><tspan x="0" dy="14.67">GetLayoutManager</tspan><tspan x="0" dy="14.67">GetList</tspan><tspan x="0" dy="14.67">GetState</tspan><tspan x="0" dy="14.67">HandleButton</tspan><tspan x="0" dy="14.67">HandleCrossing</tspan><tspan x="0" dy="14.67">HandleDoubleClick</tspan></text>
</g>
</g>

<g id="TGMainFrame">
<rect class="box" x="1803.3" y="16.5" width="333.4" height="511.5"/>
<text class="ttl" x="1969.6" y="39.5">TGMainFrame</text>
<use href="#Y" x="1857.6" y="87"/><use href="#Y" x="1969.6" y="87"/><use href="#Y" x="2081.6" y="87"/>
<text class="tx" x="1857.6" y="91.5">fWMMinWidth</text><text class="tx" x="1969.6" y="91.5">fMWMValue</text><text class="tx" x="2081.6" y="91.5">fBindList</text>
<g transform="translate(1857.6,105)">
<use href="#Y"/><use href="#Y" y="14.67"/><use href="#Y" y="29.33"/><use href="#Y" y="44"/><use href="#Y" y="58.67"/><use href="#P" y="73.33"/><use href="#G" y="88"/>
<text class="tx"><tspan x="0" y="4.5">fWMWidth</tspan><tspan x="0" dy="14.67">fWMWidthInc</tspan><tspan x="0" dy="14.67">fWMX</tspan><tspan x="0" dy="14.67">fWMY</tspan><tspan x="0" dy="14.67">fWindowName</tspan><tspan x="0" dy="14.67">fgIsA</tspan><tspan x="0" dy="14.67">kDontCallClose</tspan></text>
</g>
<g transform="translate(1969.6,105)">
<use href="#Y"/><use href="#Y" y="14.67"/><use href="#Y" y="29.33"/><use href="#Y" y="44"/><use href="#Y" y="58.67"/><use href="#Y" y="73.33"/><use href="#Y" y="88"/>
<text class="tx"><tspan x="0" y="4.5">fResourceName</tspan><tspan x="0" dy="14.67">fWMHeight</tspan><tspan x="0" dy="14.67">fWMHeightInc</tspan><tspan x="0" dy="14.67">fWMInitState</tspan><tspan x="0" dy="14.67">fWMMaxHeight</tspan><tspan x="0" dy="14.67">fWMMaxWidth</tspan><tspan x="0" dy="14.67">fWMMinHeight</tspan></text>
</g>
<g transform="translate(2081.6,105)">
<use href="#Y"/><use href="#Y" y="14.67"/><use href="#Y" y="29.33"/><use href="#Y" y="44"/><use href="#Y" y="58.67"/><use href="#Y" y="73.33"/>
<text class="tx"><tspan x="0" y="4.5">fClassName</tspan><tspan x="0" dy="14.67">fDNDTypeList</tspan><tspan x="0" dy="14.67">fIconName</tspan><tspan x="0" dy="14.67">fIconPixmap</tspan><tspan x="0" dy="14.67">fMWMFuncs</tspan><tspan x="0" dy="14.67">fMWMInput</tspan></text>
</g>
<g transform="translate(1857.6,264.9)">
<use href="#G"/><use href="#G" y="14.67"/><use href="#G" y="29.33"/><use href="#G" y="44"/><use href="#G" y="58.67"/><use href="#G" y="73.33"/><use href="#G" y="88"/><use href="#G" y="102.67"/><use href="#G" y="117.33"/><use href="#G" y="132"/><use href="#G" y="146.67"/><use href="#D" y="161.33"/><use href="#D" y="176"/><use href="#D" y="190.67"/><use href="#G" y="205.33"/><use href="#P" y="220"/><use href="#G" y="234.67"/>
<text class="tx"><tspan x="0" y="4.5">SaveSource</tspan><tspan x="0" dy="14.67">SendCloseMessage</tspan><tspan x="0" dy="14.67">SetClassHints</tspan><tspan x="0" dy="14.67">SetIconName</tspan><tspan x="0" dy="14.67">SetIconPixmap</tspan><tspan x="0" dy="14.67">SetMWMHints</tspan><tspan x="0" dy="14.67">SetWMPosition</tspan><tspan x="0" dy="14.67">SetWMSize</tspan><tspan x="0" dy="14.67">SetWMSizeHints</tspan><tspan x="0" dy="14.67">SetWMState</tspan><tspan x="0" dy="14.67">SetWindowName</tspan><tspan x="0" dy="14.67">ShowMembers</tspan><tspan x="0" dy="14.67">Streamer</tspan><tspan x="0" dy="14.67">StreamerNVirtual</tspan><tspan x="0" dy="14.67">TGMainFrame</tspan><tspan x="0" dy="14.67">operator=</tspan><tspan x="0" dy="14.67">~TGMainFrame</tspan></text>
</g>
<g transform="translate(1969.6,264.9)">
<use href="#Y"/><use href="#G" y="14.67"/><use href="#G" y="29.33"/><use href="#G" y="44"/><use href="#G" y="58.67"/><use href="#G" y="73.33"/><use href="#G" y="88"/><use href="#G" y="102.67"/><use href="#D" y="117.33"/><use href="#G" y="132"/><use href="#G" y="146.67"/><use href="#G" y="161.33"/><use href="#D" y="176"/><use href="#D" y="190.67"/><use href="#D" y="205.33"/><use href="#G" y="220"/><use href="#G" y="234.67"/>
<text class="tx"><tspan x="0" y="4.5">GetMWMvalueString</tspan><tspan x="0" dy="14.67">GetWMPosition</tspan><tspan x="0" dy="14.67">GetWMSize</tspan><tspan x="0" dy="14.67">GetWMSizeHints</tspan><tspan x="0" dy="14.67">GetWMState</tspan><tspan x="0" dy="14.67">GetWindowName</tspan><tspan x="0" dy="14.67">HandleButton</tspan><tspan x="0" dy="14.67">HandleClientMessage</tspan><tspan x="0" dy="14.67">HandleKey</tspan><tspan x="0" dy="14.67">HandleMotion</tspan><tspan x="0" dy="14.67">HandleSelection</tspan><tspan x="0" dy="14.67">HandleSelectionRequest</tspan><tspan x="0" dy="14.67">ImplFileLine</tspan><tspan x="0" dy="14.67">ImplFileName</tspan><tspan x="0" dy="14.67">IsA</tspan><tspan x="0" dy="14.67">RemoveBind</tspan><tspan x="0" dy="14.67">SavePrimitive</tspan></text>
</g>
<g transform="translate(2081.6,279.57)">
<use href="#G"/><use href="#D" y="14.67"/><use href="#D" y="29.33"/><use href="#D" y="44"/><use href="#D" y="58.67"/><use href="#D" y="73.33"/><use href="#D" y="88"/><use href="#D" y="102.67"/><use href="#G" y="117.33"/><use href="#G" y="132"/><use href="#G" y="146.67"/><use href="#G" y="161.33"/><use href="#G" y="176"/><use href="#G" y="190.67"/><use href="#Y" y="205.33"/><use href="#Y" y="220"/>
<text class="tx"><tspan x="0" y="4.5">BindKey</tspan><tspan x="0" dy="14.67">Class</tspan><tspan x="0" dy="14.67">Class_Name</tspan><tspan x="0" dy="14.67">Class_Version</tspan><tspan x="0" dy="14.67">CloseWindow</tspan><tspan x="0" dy="14.67">DeclFileLine</tspan><tspan x="0" dy="14.67">DeclFileName</tspan><tspan x="0" dy="14.67">Dictionary</tspan><tspan x="0" dy="14.67">DontCallClose</tspan><tspan x="0" dy="14.67">GetBindList</tspan><tspan x="0" dy="14.67">GetClassHints</tspan><tspan x="0" dy="14.67">GetIconName</tspan><tspan x="0" dy="14.67">GetIconPixmap</tspan><tspan x="0" dy="14.67">GetMWMHints</tspan><tspan x="0" dy="14.67">GetMWMfuncString</tspan><tspan x="0" dy="14.67">GetMWMinpString</tspan></text>
</g>
</g>

<g id="TBrowserImp">
<rect class="box" x="1803.3" y="585" width="333" height="320"/>
<text class="ttl" x="1969.6" y="608">TBrowserImp</text>
<use href="#P" x="1857.6" y="659.5"/><use href="#Y" x="1969.6" y="659.5"/><use href="#Y" x="2081.6" y="659.5"/>
<text class="tx" x="1857.6" y="664">fgIsA</text><text class="tx" x="1969.6" y="664">fShowCycles</text><text class="tx" x="2081.6" y="664">fBrowser</text>
<g transform="translate(1857.6,715.7)">
<use href="#G"/><use href="#D" y="14.67"/><use href="#D" y="29.33"/><use href="#D" y="44"/><use href="#D" y="58.67"/><use href="#G" y="73.33"/><use href="#G" y="88"/><use href="#D" y="102.67"/><use href="#D" y="117.33"/><use href="#G" y="132"/><use href="#Y" y="146.67"/><use href="#G" y="161.33"/>
<text class="tx"><tspan x="0" y="4.5">SetBrowser</tspan><tspan x="0" dy="14.67">SetDrawOption</tspan><tspan x="0" dy="14.67">SetStatusText</tspan><tspan x="0" dy="14.67">Show</tspan><tspan x="0" dy="14.67">ShowMembers</tspan><tspan x="0" dy="14.67">StartEmbedding</tspan><tspan x="0" dy="14.67">StopEmbedding</tspan><tspan x="0" dy="14.67">Streamer</tspan><tspan x="0" dy="14.67">StreamerNVirtual</tspan><tspan x="0" dy="14.67">TBrowserImp</tspan><tspan x="0" dy="14.67">operator=</tspan><tspan x="0" dy="14.67">~TBrowserImp</tspan></text>
</g>
<g transform="translate(1969.6,715.7)">
<use href="#D"/><use href="#G" y="14.67"/><use href="#D" y="29.33"/><use href="#G" y="44"/><use href="#D" y="58.67"/><use href="#D" y="73.33"/><use href="#D" y="88"/><use href="#D" y="102.67"/><use href="#D" y="117.33"/><use href="#D" y="132"/><use href="#D" y="146.67"/><use href="#D" y="161.33"/>
<text class="tx"><tspan x="0" y="4.5">Dictionary</tspan><tspan x="0" dy="14.67">ExecPlugin</tspan><tspan x="0" dy="14.67">ExecuteDefaultAction</tspan><tspan x="0" dy="14.67">GetBrowser</tspan><tspan x="0" dy="14.67">GetDrawOption</tspan><tspan x="0" dy="14.67">Iconify</tspan><tspan x="0" dy="14.67">ImplFileLine</tspan><tspan x="0" dy="14.67">ImplFileName</tspan><tspan x="0" dy="14.67">IsA</tspan><tspan x="0" dy="14.67">RecursiveRemove</tspan><tspan x="0" dy="14.67">Refresh</tspan><tspan x="0" dy="14.67">RemoveCheckBox</tspan></text>
</g>
<g transform="translate(2081.6,715.7)">
<use href="#D"/><use href="#D" y="14.67"/><use href="#D" y="29.33"/><use href="#G" y="44"/><use href="#D" y="58.67"/><use href="#D" y="73.33"/><use href="#D" y="88"/><use href="#D" y="102.67"/><use href="#D" y="117.33"/><use href="#D" y="132"/>
<text class="tx"><tspan x="0" y="4.5">Add</tspan><tspan x="0" dy="14.67">AddCheckBox</tspan><tspan x="0" dy="14.67">BrowseObj</tspan><tspan x="0" dy="14.67">Browser</tspan><tspan x="0" dy="14.67">CheckObjectItem</tspan><tspan x="0" dy="14.67">Class</tspan><tspan x="0" dy="14.67">Class_Name</tspan><tspan x="0" dy="14.67">Class_Version</tspan><tspan x="0" dy="14.67">DeclFileLine</tspan><tspan x="0" dy="14.67">DeclFileName</tspan></text>
</g>
</g>

<g id="TRootBrowserLite">
<rect class="box" x="2160.7" y="16" width="332.6" height="674"/>
<text class="ttl" x="2327" y="39">TRootBrowserLite</text>
<use href="#Y" x="2215" y="87"/><use href="#P" x="2327" y="87"/><use href="#P" x="2439" y="87"/>
<text class="tx" x="2215" y="91.5">fTextEdit</text><text class="tx" x="2327" y="91.5">fLbl1</text><text class="tx" x="2439" y="91.5">fBarLayout</text>
<g transform="translate(2215,105)">
<use href="#P"/><use href="#P" y="14.67"/><use href="#Y" y="29.33"/><use href="#P" y="44"/><use href="#P" y="58.67"/><use href="#Y" y="73.33"/><use href="#Y" y="88"/><use href="#P" y="102.67"/><use href="#P" y="117.33"/><use href="#Y" y="132"/><use href="#Y" y="146.67"/><use href="#P" y="161.33"/><use href="#P" y="176"/>
<text class="tx"><tspan x="0" y="4.5">fTextFileName</tspan><tspan x="0" dy="14.67">fToolBar</tspan><tspan x="0" dy="14.67">fToolBarButton</tspan><tspan x="0" dy="14.67">fToolBarSep</tspan><tspan x="0" dy="14.67">fTreeHdr</tspan><tspan x="0" dy="14.67">fTreeLock</tspan><tspan x="0" dy="14.67">fTreeView</tspan><tspan x="0" dy="14.67">fV1</tspan><tspan x="0" dy="14.67">fV2</tspan><tspan x="0" dy="14.67">fViewMenu</tspan><tspan x="0" dy="14.67">fViewMode</tspan><tspan x="0" dy="14.67">fWidgets</tspan><tspan x="0" dy="14.67">fgIsA</tspan></text>
</g>
<g transform="translate(2327,105)">
<use href="#P"/><use href="#P" y="14.67"/><use href="#Y" y="29.33"/><use href="#Y" y="44"/><use href="#Y" y="58.67"/><use href="#P" y="73.33"/><use href="#P" y="88"/><use href="#P" y="102.67"/><use href="#P" y="117.33"/><use href="#Y" y="132"/><use href="#Y" y="146.67"/><use href="#Y" y="161.33"/><use href="#Y" y="176"/>
<text class="tx"><tspan x="0" y="4.5">fLbl2</tspan><tspan x="0" dy="14.67">fListHdr</tspan><tspan x="0" dy="14.67">fListLevel</tspan><tspan x="0" dy="14.67">fListView</tspan><tspan x="0" dy="14.67">fLt</tspan><tspan x="0" dy="14.67">fMenuBar</tspan><tspan x="0" dy="14.67">fMenuBarHelpLayout</tspan><tspan x="0" dy="14.67">fMenuBarItemLayout</tspan><tspan x="0" dy="14.67">fMenuBarLayout</tspan><tspan x="0" dy="14.67">fOptionMenu</tspan><tspan x="0" dy="14.67">fSortMenu</tspan><tspan x="0" dy="14.67">fSortMode</tspan><tspan x="0" dy="14.67">fStatusBar</tspan></text>
</g>
<g transform="translate(2439,105)">
<use href="#P"/><use href="#P" y="14.67"/><use href="#P" y="29.33"/><use href="#P" y="44"/><use href="#Y" y="58.67"/><use href="#Y" y="73.33"/><use href="#Y" y="88"/><use href="#P" y="102.67"/><use href="#P" y="117.33"/><use href="#P" y="132"/><use href="#Y" y="146.67"/><use href="#P" y="161.33"/>
<text class="tx"><tspan x="0" y="4.5">fBrowseTextFile</tspan><tspan x="0" dy="14.67">fComboLayout</tspan><tspan x="0" dy="14.67">fDrawOption</tspan><tspan x="0" dy="14.67">fExpandLayout</tspan><tspan x="0" dy="14.67">fFSComboBox</tspan><tspan x="0" dy="14.67">fFileMenu</tspan><tspan x="0" dy="14.67">fHelpMenu</tspan><tspan x="0" dy="14.67">fHf</tspan><tspan x="0" dy="14.67">fHistory</tspan><tspan x="0" dy="14.67">fHistoryCursor</tspan><tspan x="0" dy="14.67">fIconBox</tspan><tspan x="0" dy="14.67">fIconPic</tspan></text>
</g>
<g transform="translate(2215,339)">
<use href="#G"/><use href="#G" y="14.67"/><use href="#G" y="29.33"/><use href="#G" y="44"/><use href="#G" y="58.67"/><use href="#G" y="73.33"/><use href="#P" y="88"/><use href="#G" y="102.67"/><use href="#G" y="117.33"/><use href="#G" y="132"/><use href="#G" y="146.67"/><use href="#P" y="161.33"/><use href="#G" y="176"/><use href="#P" y="190.67"/><use href="#G" y="205.33"/><use href="#G" y="220"/><use href="#G" y="234.67"/><use href="#G" y="249.33"/><use href="#G" y="264"/><use href="#G" y="278.67"/><use href="#P" y="293.33"/><use href="#P" y="308"/><use href="#G" y="322.67"/>
<text class="tx"><tspan x="0" y="4.5">ProcessMessage</tspan><tspan x="0" dy="14.67">ReallyDelete</tspan><tspan x="0" dy="14.67">RecursiveRemove</tspan><tspan x="0" dy="14.67">Refresh</tspan><tspan x="0" dy="14.67">RemoveCheckBox</tspan><tspan x="0" dy="14.67">ResizeBrowser</tspan><tspan x="0" dy="14.67">Search</tspan><tspan x="0" dy="14.67">SetDefaults</tspan><tspan x="0" dy="14.67">SetDrawOption</tspan><tspan x="0" dy="14.67">SetSortMode</tspan><tspan x="0" dy="14.67">SetStatusText</tspan><tspan x="0" dy="14.67">SetViewMode</tspan><tspan x="0" dy="14.67">Show</tspan><tspan x="0" dy="14.67">ShowMacroButtons</tspan><tspan x="0" dy="14.67">ShowMembers</tspan><tspan x="0" dy="14.67">ShowStatusBar</tspan><tspan x="0" dy="14.67">ShowToolBar</tspan><tspan x="0" dy="14.67">Streamer</tspan><tspan x="0" dy="14.67">StreamerNVirtual</tspan><tspan x="0" dy="14.67">TRootBrowserLite</tspan><tspan x="0" dy="14.67">ToSystemDirectory</tspan><tspan x="0" dy="14.67">UpdateDrawOption</tspan><tspan x="0" dy="14.67">~TRootBrowserLite</tspan></text>
</g>
<g transform="translate(2327,339)">
<use href="#P"/><use href="#G" y="14.67"/><use href="#G" y="29.33"/><use href="#G" y="44"/><use href="#G" y="58.67"/><use href="#G" y="73.33"/><use href="#G" y="88"/><use href="#G" y="102.67"/><use href="#G" y="117.33"/><use href="#G" y="132"/><use href="#G" y="146.67"/><use href="#P" y="161.33"/><use href="#P" y="176"/><use href="#P" y="190.67"/><use href="#P" y="205.33"/><use href="#P" y="220"/><use href="#G" y="234.67"/><use href="#G" y="249.33"/><use href="#G" y="264"/><use href="#G" y="278.67"/><use href="#G" y="293.33"/><use href="#P" y="308"/><use href="#G" y="322.67"/>
<text class="tx"><tspan x="0" y="4.5">DisplayTotal</tspan><tspan x="0" dy="14.67">DoubleClicked</tspan><tspan x="0" dy="14.67">ExecMacro</tspan><tspan x="0" dy="14.67">ExecuteDefaultAction</tspan><tspan x="0" dy="14.67">GetDrawOption</tspan><tspan x="0" dy="14.67">GetIconBox</tspan><tspan x="0" dy="14.67">GetListTree</tspan><tspan x="0" dy="14.67">GetMenuBar</tspan><tspan x="0" dy="14.67">GetStatusBar</tspan><tspan x="0" dy="14.67">GetToolBar</tspan><tspan x="0" dy="14.67">HandleKey</tspan><tspan x="0" dy="14.67">HideTextEdit</tspan><tspan x="0" dy="14.67">HighlightListLevel</tspan><tspan x="0" dy="14.67">HistoryBackward</tspan><tspan x="0" dy="14.67">HistoryForward</tspan><tspan x="0" dy="14.67">IconBoxAction</tspan><tspan x="0" dy="14.67">Iconify</tspan><tspan x="0" dy="14.67">ImplFileLine</tspan><tspan x="0" dy="14.67">ImplFileName</tspan><tspan x="0" dy="14.67">InterruptMacro</tspan><tspan x="0" dy="14.67">IsA</tspan><tspan x="0" dy="14.67">ListTreeHighlight</tspan><tspan x="0" dy="14.67">NewBrowser</tspan></text>
</g>
<g transform="translate(2439,368.33)">
<use href="#G"/><use href="#G" y="14.67"/><use href="#G" y="29.33"/><use href="#P" y="44"/><use href="#G" y="58.67"/><use href="#G" y="73.33"/><use href="#P" y="88"/><use href="#P" y="102.67"/><use href="#G" y="117.33"/><use href="#G" y="132"/><use href="#G" y="146.67"/><use href="#G" y="161.33"/><use href="#G" y="176"/><use href="#P" y="190.67"/><use href="#G" y="205.33"/><use href="#P" y="220"/><use href="#G" y="234.67"/><use href="#G" y="249.33"/><use href="#G" y="264"/><use href="#G" y="278.67"/><use href="#P" y="293.33"/>
<text class="tx"><tspan x="0" y="4.5">Add</tspan><tspan x="0" dy="14.67">AddCheckBox</tspan><tspan x="0" dy="14.67">AddToBox</tspan><tspan x="0" dy="14.67">AddToHistory</tspan><tspan x="0" dy="14.67">AddToTree</tspan><tspan x="0" dy="14.67">BrowseObj</tspan><tspan x="0" dy="14.67">BrowseTextFile</tspan><tspan x="0" dy="14.67">Chdir</tspan><tspan x="0" dy="14.67">CheckObjectItem</tspan><tspan x="0" dy="14.67">Checked</tspan><tspan x="0" dy="14.67">Class</tspan><tspan x="0" dy="14.67">Class_Name</tspan><tspan x="0" dy="14.67">Class_Version</tspan><tspan x="0" dy="14.67">ClearHistory</tspan><tspan x="0" dy="14.67">CloseWindow</tspan><tspan x="0" dy="14.67">CreateBrowser</tspan><tspan x="0" dy="14.67">DeclFileLine</tspan><tspan x="0" dy="14.67">DeclFileName</tspan><tspan x="0" dy="14.67">DeleteListTreeItem</tspan><tspan x="0" dy="14.67">Dictionary</tspan><tspan x="0" dy="14.67">DisplayDirectory</tspan></text>
</g>
</g>

<g id="connectors">
<path class="e" d="M373.3,96H362.8"/><polygon class="ah" points="349.3,96 362.8,91.7 362.8,100.3"/>
<path class="e" d="M731.7,96H720.2"/><polygon class="ah" points="706.7,96 720.2,91.7 720.2,100.3"/>
<path class="e" d="M1088.3,96H1077.8"/><polygon class="ah" points="1064.3,96 1077.8,91.7 1077.8,100.3"/>
<path class="e" d="M1445.3,96H1435.2"/><polygon class="ah" points="1421.7,96 1435.2,91.7 1435.2,100.3"/>
<path class="e" d="M1803.3,96H1792.8"/><polygon class="ah" points="1779.3,96 1792.8,91.7 1792.8,100.3"/>
<path class="e" d="M2160.7,96H2150.2"/><polygon class="ah" points="2136.7,96 2150.2,91.7 2150.2,100.3"/>
<path class="e" d="M1088.3,99 C1083,110 1077,125 1075,150 L1066,490 C1065,515 1056,535 1046.2,552.6"/><polygon class="ah" points="1040,564 1050,554.6 1042.4,550.6"/>
<path class="e" d="M2160.7,99 C2155,110 2150,125 2148,150 L2141,480 C2140,510 2128,545 2118.4,573.2"/><polygon class="ah" points="2113,585 2122.3,575 2114.5,571.4"/>
</g>
</svg>
